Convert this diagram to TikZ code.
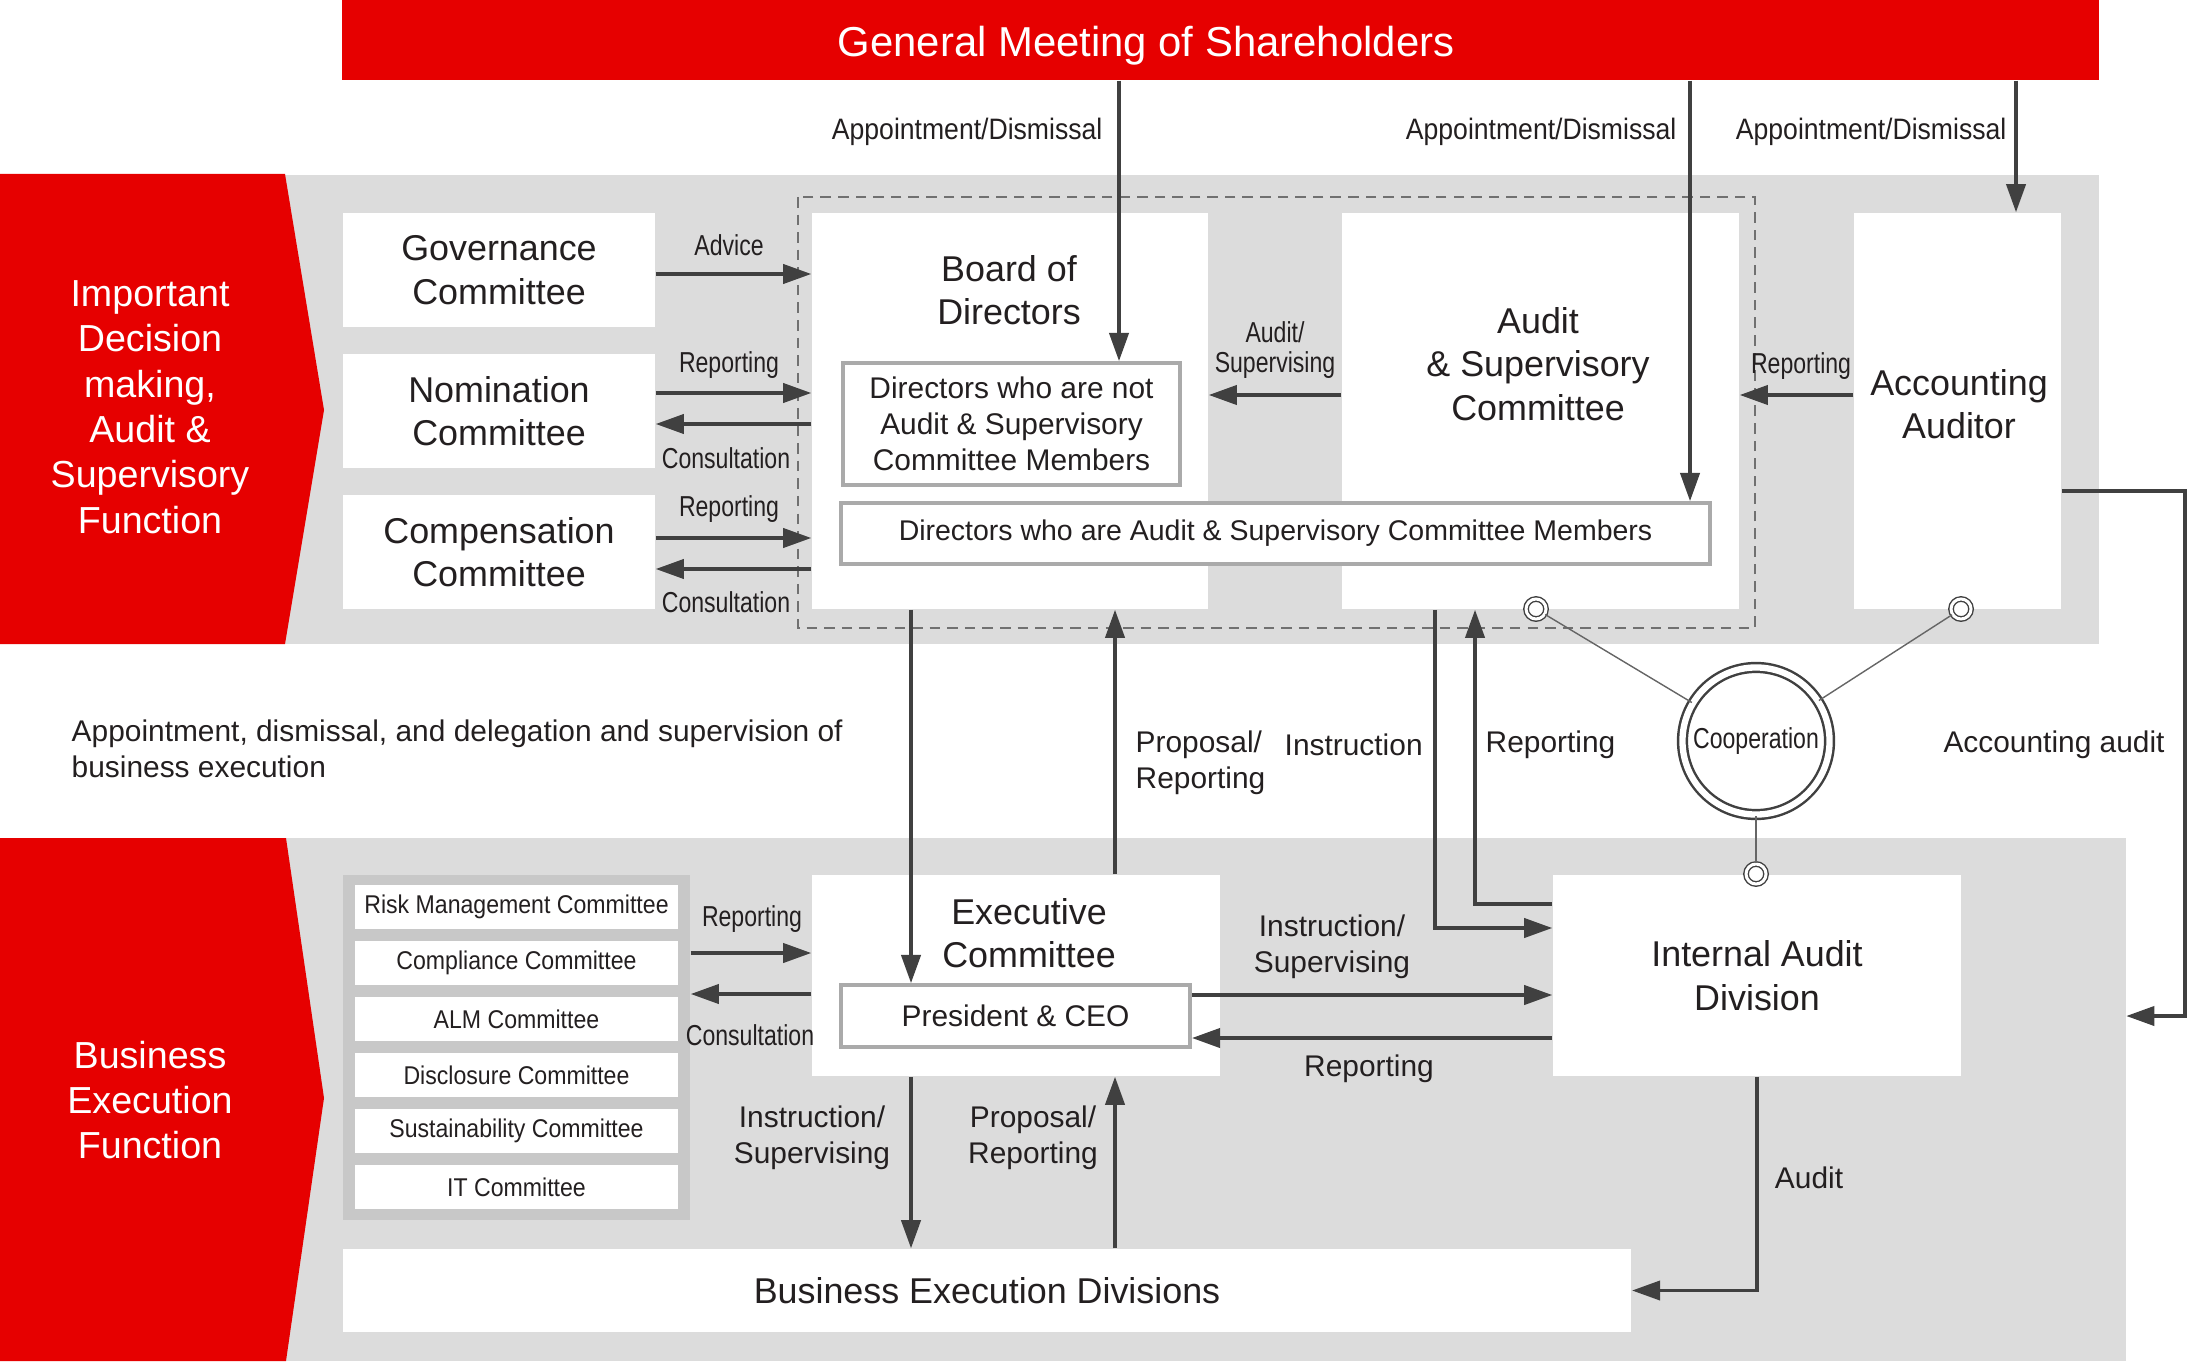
\documentclass[tikz,border=0pt]{standalone}
\usepackage{fontspec}
\setmainfont{Liberation Sans}
\newfontfamily\narrowfont{Liberation Sans}[FakeStretch=0.8]
\newfontfamily\semifont{Liberation Sans}[FakeStretch=0.9]
\usetikzlibrary{arrows.meta}

\definecolor{gmred}{RGB}{230,0,0}
\definecolor{bandgray}{RGB}{220,220,220}
\definecolor{listgray}{RGB}{200,200,200}
\definecolor{boxgray}{RGB}{170,170,170}
\definecolor{arrgray}{RGB}{64,64,64}
\definecolor{txtdark}{RGB}{35,31,32}

\begin{document}
\begin{tikzpicture}[x=0.01cm, y=-0.01cm,
    band/.style={fill=bandgray, draw=none, inner sep=0pt},
    whitebox/.style={fill=white, draw=none, inner sep=0pt, align=center, text=txtdark, font=\fontsize{10.2}{12.4}\selectfont},
    subbox/.style={fill=white, draw=boxgray, line width=1.1pt, inner sep=0pt, align=center, text=txtdark, font=\fontsize{8.5}{10.2}\selectfont},
    cmte/.style={fill=white, draw=none, inner sep=0pt, minimum width=3.23cm, minimum height=0.44cm, text=txtdark, font=\semifont\fontsize{7.3}{8}\selectfont},
    boxtext/.style={align=center, text=txtdark, inner sep=0pt, font=\fontsize{10.2}{12.4}\selectfont},
    redtext/.style={align=center, text=white, inner sep=0pt, font=\fontsize{10.7}{12.9}\selectfont},
    flow/.style={draw=arrgray, line width=0.9pt, -{Triangle[length=8pt,width=5.5pt]}},
    smalllbl/.style={align=center, text=txtdark, inner sep=0pt, font=\narrowfont\fontsize{8.2}{8.6}\selectfont},
    midlbl/.style={align=left, text=txtdark, inner sep=0pt, font=\fontsize{8.5}{10.3}\selectfont},
    appt/.style={text=txtdark, inner sep=0pt, font=\semifont\fontsize{8.4}{9}\selectfont},
    ring/.style={circle, draw=arrgray, fill=white, line width=0.4pt, double=white, double distance=0.85pt, minimum size=0.2cm, inner sep=0pt},
    tie/.style={draw=arrgray!80, line width=0.4pt}]
    \useasboundingbox (0,0) rectangle (2189,1361);

    % Background bands
    \node[band, minimum width=20.98cm, minimum height=4.69cm] (upband) at (1049,409.5) {};
    \node[band, minimum width=21.25cm, minimum height=5.23cm] (lowband) at (1062.5,1099.5) {};

    % Red chevrons
    \fill[gmred] (0,174) -- (285,174) -- (324,410) -- (285,644) -- (0,644) -- cycle;
    \fill[gmred] (0,838) -- (286,838) -- (324,1098) -- (286,1361) -- (0,1361) -- cycle;
    \node[redtext] (topfn) at (150,407) {Important\\Decision\\making,\\Audit \&\\Supervisory\\Function};
    \node[redtext] (lowfn) at (150,1100) {Business\\Execution\\Function};

    % General meeting
    \node[fill=gmred, minimum width=17.55cm, minimum height=0.8cm, inner sep=0pt] (gm) at (1220.5,40) {};
    \node[text=white, inner sep=0pt, font=\fontsize{11.9}{14}\selectfont] (gmtext) at (1146,46) {General Meeting of Shareholders};

    % Committees of the board
    \node[whitebox, minimum width=3.12cm, minimum height=1.14cm] (gov) at (499,270) {Governance\\Committee};
    \node[whitebox, minimum width=3.12cm, minimum height=1.14cm] (nom) at (499,411) {Nomination\\Committee};
    \node[whitebox, minimum width=3.12cm, minimum height=1.14cm] (comp) at (499,552) {Compensation\\Committee};

    % Board, audit committee, auditor
    \node[whitebox, minimum width=3.96cm, minimum height=3.96cm] (bod) at (1010,411) {};
    \node[boxtext] (bodtext) at (1009,290) {Board of\\Directors};
    \node[whitebox, minimum width=3.97cm, minimum height=3.96cm] (asc) at (1540.5,411) {};
    \node[boxtext] (asctext) at (1538,364) {Audit\\\& Supervisory\\Committee};
    \node[whitebox, minimum width=2.07cm, minimum height=3.96cm] (aa) at (1957.5,411) {};
    \node[boxtext] (aatext) at (1959,404) {Accounting\\Auditor};
    \draw[arrgray!75, line width=0.6pt, dash pattern=on 3pt off 2pt] (798,197) rectangle (1755,628);
    \node[subbox, minimum width=3.37cm, minimum height=1.22cm] (ndir) at (1011.5,424) {Directors who are not\\Audit \& Supervisory\\Committee Members};
    \node[subbox, minimum width=8.69cm, minimum height=0.61cm, font=\fontsize{8.1}{10}\selectfont] (adir) at (1275.5,533.5) {Directors who are Audit \& Supervisory Committee Members};

    % Execution side
    \node[fill=listgray, minimum width=3.47cm, minimum height=3.45cm, inner sep=0pt] (lst) at (516.5,1047.5) {};
    \foreach \name [count=\i from 0] in {Risk Management Committee, Compliance Committee, ALM Committee, Disclosure Committee, Sustainability Committee, IT Committee}
        \node[cmte] (c\i) at (516.5,907+56*\i) {\name};
    \node[whitebox, minimum width=4.08cm, minimum height=2.01cm] (exec) at (1016,975.5) {};
    \node[boxtext] (exectext) at (1029,933) {Executive\\Committee};
    \node[subbox, minimum width=3.49cm, minimum height=0.62cm] (pres) at (1015.5,1016) {President \& CEO};
    \node[whitebox, minimum width=4.08cm, minimum height=2.01cm] (ia) at (1757,975.5) {Internal Audit\\Division};
    \node[whitebox, minimum width=12.88cm, minimum height=0.83cm] (bed) at (987,1290.5) {Business Execution Divisions};

    % Cooperation
    \node[circle, draw=arrgray, fill=white, line width=0.7pt, double=white, double distance=1.8pt, minimum size=1.47cm, inner sep=0pt, text=txtdark, font=\narrowfont\fontsize{8.2}{9}\selectfont] (coop) at (1756,741) {Cooperation};
    \node[ring] (ringas) at (1536,609) {};
    \node[ring] (ringaa) at (1961,609) {};
    \node[ring] (ringia) at (1756,874) {};
    \draw[tie] (ringas) -- (coop);
    \draw[tie] (ringaa) -- (coop);
    \draw[tie] (ringia) -- (coop);

    % Levels of the arrows
    \coordinate (ap1) at (1119,0);
    \coordinate (ap2) at (1690,0);
    \coordinate (ap3) at (2016,0);
    \coordinate (lvadv) at (0,274);
    \coordinate (lvnr) at (0,393);
    \coordinate (lvnc) at (0,424);
    \coordinate (lvcr) at (0,538);
    \coordinate (lvcc) at (0,569);
    \coordinate (lvas) at (0,395);
    \coordinate (dn) at (911,0);
    \coordinate (up) at (1115,0);
    \coordinate (insc) at (1435,928);
    \coordinate (repc) at (1475,904);
    \coordinate (lvrr) at (0,953);
    \coordinate (lvrc) at (0,994);
    \coordinate (lvei) at (0,995);
    \coordinate (lvie) at (0,1038);
    \coordinate (accr) at (2185,491);
    \coordinate (lvacc) at (0,1016);

    % Appointment / dismissal
    \draw[flow] (gm.south -| ap1) -- (ndir.north -| ap1);
    \draw[flow] (gm.south -| ap2) -- (adir.north -| ap2);
    \draw[flow] (gm.south -| ap3) -- (aa.north -| ap3);
    \node[appt, anchor=east] (apl1) at (1103,132) {Appointment/Dismissal};
    \node[appt, anchor=east] (apl2) at (1677,132) {Appointment/Dismissal};
    \node[appt, anchor=east] (apl3) at (2007,132) {Appointment/Dismissal};

    % Committees <-> board
    \draw[flow] (gov.east |- lvadv) -- (bod.west |- lvadv);
    \draw[flow] (nom.east |- lvnr) -- (bod.west |- lvnr);
    \draw[flow] (bod.west |- lvnc) -- (nom.east |- lvnc);
    \draw[flow] (comp.east |- lvcr) -- (bod.west |- lvcr);
    \draw[flow] (bod.west |- lvcc) -- (comp.east |- lvcc);
    \node[smalllbl] (advl) at (729,245) {Advice};
    \node[smalllbl] (nrl) at (729,365) {Reporting};
    \node[smalllbl] (ncl) at (726,458) {Consultation};
    \node[smalllbl] (crl) at (729,509) {Reporting};
    \node[smalllbl] (ccl) at (726,602) {Consultation};

    % Audit committee, auditor
    \draw[flow] (asc.west |- lvas) -- (bod.east |- lvas);
    \draw[flow] (aa.west |- lvas) -- (asc.east |- lvas);
    \node[smalllbl] (asl) at (1275,350) {Audit/\\Supervising};
    \node[smalllbl] (aarl) at (1801,366) {Reporting};

    % Board <-> execution
    \draw[flow] (bod.south -| dn) -- (pres.north -| dn);
    \draw[flow] (exec.north -| up) -- (bod.south -| up);
    \draw[flow] (exec.south -| dn) -- (bed.north -| dn);
    \draw[flow] (bed.north -| up) -- (exec.south -| up);
    \node[midlbl, anchor=west] (dell) at (71,749) {Appointment, dismissal, and delegation and supervision of\\business execution};
    \node[midlbl, anchor=west] (prl) at (1135,763) {Proposal/\\Reporting};
    \node[midlbl, align=center] (isl) at (812,1138) {Instruction/\\Supervising};
    \node[midlbl, align=center] (prl2) at (1033,1138) {Proposal/\\Reporting};

    % Audit committee <-> internal audit
    \draw[flow] (asc.south -| insc) |- (ia.west |- insc);
    \draw[flow] (ia.west |- repc) -| (asc.south -| repc);
    \node[midlbl, anchor=west] (insl) at (1284,745) {Instruction};
    \node[midlbl, anchor=west] (repl) at (1485,745) {Reporting};

    % Committees list <-> executive committee
    \draw[flow] (lst.east |- lvrr) -- (exec.west |- lvrr);
    \draw[flow] (exec.west |- lvrc) -- (lst.east |- lvrc);
    \node[smalllbl] (rrl) at (752,919) {Reporting};
    \node[smalllbl] (rcl) at (750,1035) {Consultation};

    % President <-> internal audit
    \draw[flow] (pres.east |- lvei) -- (ia.west |- lvei);
    \draw[flow] (ia.west |- lvie) -- (pres.east |- lvie);
    \node[midlbl, align=center] (eil) at (1332,947) {Instruction/\\Supervising};
    \node[midlbl] (iel) at (1369,1069) {Reporting};

    % Internal audit, accounting audit
    \draw[flow] (ia.south) |- (bed.east);
    \node[midlbl] (audl) at (1809,1178) {Audit};
    \draw[flow] (aa.east |- accr) -- (accr) -- (accr |- lvacc) -- (lowband.east |- lvacc);
    \node[midlbl] (accl) at (2054,745) {Accounting audit};
\end{tikzpicture}
\end{document}
